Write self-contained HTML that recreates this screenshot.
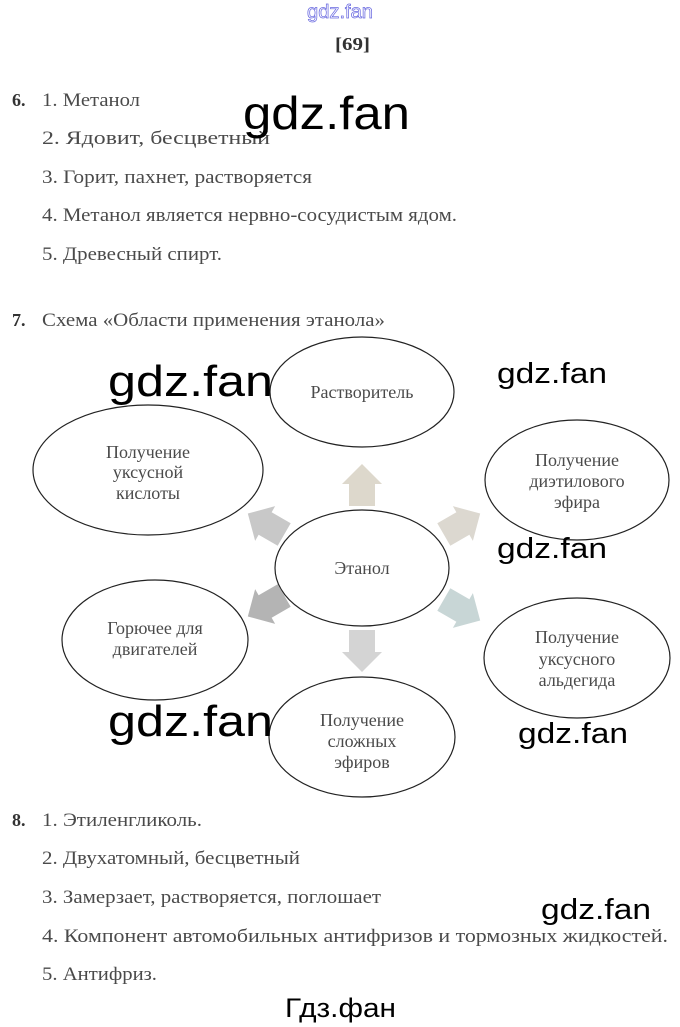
<!DOCTYPE html>
<html><head><meta charset="utf-8"><style>
html,body{margin:0;padding:0;background:#fff;}
svg{display:block}
.t{font-family:"Liberation Serif",serif;font-size:19px;fill:#4a4a4a}
.b{font-family:"Liberation Serif",serif;font-size:18px;font-weight:bold;fill:#333}
.w{font-family:"Liberation Sans",sans-serif;fill:#000}
.c{font-family:"Liberation Serif",serif;font-size:18px;fill:#4a4a4a;text-anchor:middle}
</style></head><body>
<svg width="680" height="1027" viewBox="0 0 680 1027" xmlns="http://www.w3.org/2000/svg">
<text x="307" y="18" class="w" style="font-size:19px;fill:none;stroke:#6a6ae0;stroke-width:0.7" textLength="66" lengthAdjust="spacingAndGlyphs">gdz.fan</text>
<text x="335" y="50" class="b" textLength="35" lengthAdjust="spacingAndGlyphs">[69]</text>

<text x="12" y="106" class="b">6.</text>
<text x="42" y="106" class="t" textLength="98" lengthAdjust="spacingAndGlyphs">1. Метанол</text>
<text x="42" y="144" class="t" textLength="228" lengthAdjust="spacingAndGlyphs">2. Ядовит, бесцветный</text>
<text x="42" y="183" class="t" textLength="270" lengthAdjust="spacingAndGlyphs">3. Горит, пахнет, растворяется</text>
<text x="42" y="221" class="t" textLength="415" lengthAdjust="spacingAndGlyphs">4. Метанол является нервно-сосудистым ядом.</text>
<text x="42" y="260" class="t" textLength="180" lengthAdjust="spacingAndGlyphs">5. Древесный спирт.</text>
<text x="243" y="129" class="w" style="font-size:46px" textLength="167" lengthAdjust="spacingAndGlyphs">gdz.fan</text>

<text x="12" y="326" class="b">7.</text>
<text x="42" y="326" class="t" textLength="343" lengthAdjust="spacingAndGlyphs">Схема «Области применения этанола»</text>

<g fill="none" stroke="#222" stroke-width="1.2">
<ellipse cx="362" cy="392" rx="92" ry="55"/>
<ellipse cx="148" cy="470" rx="115" ry="65"/>
<ellipse cx="577" cy="480" rx="92" ry="60"/>
<ellipse cx="362" cy="568" rx="87" ry="58"/>
<ellipse cx="155" cy="640" rx="93" ry="60"/>
<ellipse cx="577" cy="658" rx="93" ry="60"/>
<ellipse cx="362" cy="737" rx="93" ry="60"/>
</g>
<defs>
<polygon id="ar" points="-13,21 13,21 13,-1 20,-1 0,-21 -20,-1 -13,-1"/>
</defs>
<use href="#ar" transform="translate(362,485)" fill="#ddd8cc"/>
<use href="#ar" transform="translate(362,651) rotate(180)" fill="#d4d4d4"/>
<use href="#ar" transform="translate(266,524) rotate(-60)" fill="#c8c8c8"/>
<use href="#ar" transform="translate(266,606) rotate(-120)" fill="#b4b4b4"/>
<use href="#ar" transform="translate(462,524) rotate(60)" fill="#dcd8d0"/>
<use href="#ar" transform="translate(462,610) rotate(120)" fill="#c8d6d6"/>

<text x="362" y="398" class="c">Растворитель</text>
<text x="148" y="458" class="c">Получение</text>
<text x="148" y="478" class="c">уксусной</text>
<text x="148" y="499" class="c">кислоты</text>
<text x="577" y="466" class="c">Получение</text>
<text x="577" y="487" class="c">диэтилового</text>
<text x="577" y="508" class="c">эфира</text>
<text x="362" y="574" class="c">Этанол</text>
<text x="155" y="634" class="c">Горючее для</text>
<text x="155" y="655" class="c">двигателей</text>
<text x="577" y="643" class="c">Получение</text>
<text x="577" y="665" class="c">уксусного</text>
<text x="577" y="686" class="c">альдегида</text>
<text x="362" y="726" class="c">Получение</text>
<text x="362" y="747" class="c">сложных</text>
<text x="362" y="768" class="c">эфиров</text>

<text x="108" y="396" class="w" style="font-size:44px" textLength="165" lengthAdjust="spacingAndGlyphs">gdz.fan</text>
<text x="497" y="383" class="w" style="font-size:29px" textLength="110" lengthAdjust="spacingAndGlyphs">gdz.fan</text>
<text x="497" y="558" class="w" style="font-size:29px" textLength="110" lengthAdjust="spacingAndGlyphs">gdz.fan</text>
<text x="108" y="736" class="w" style="font-size:44px" textLength="165" lengthAdjust="spacingAndGlyphs">gdz.fan</text>
<text x="518" y="743" class="w" style="font-size:29px" textLength="110" lengthAdjust="spacingAndGlyphs">gdz.fan</text>

<text x="12" y="826" class="b">8.</text>
<text x="42" y="826" class="t" textLength="160" lengthAdjust="spacingAndGlyphs">1. Этиленгликоль.</text>
<text x="42" y="864" class="t" textLength="258" lengthAdjust="spacingAndGlyphs">2. Двухатомный, бесцветный</text>
<text x="42" y="903" class="t" textLength="339" lengthAdjust="spacingAndGlyphs">3. Замерзает, растворяется, поглошает</text>
<text x="42" y="942" class="t" textLength="626" lengthAdjust="spacingAndGlyphs">4. Компонент автомобильных антифризов и тормозных жидкостей.</text>
<text x="42" y="980" class="t" textLength="115" lengthAdjust="spacingAndGlyphs">5. Антифриз.</text>
<text x="541" y="919" class="w" style="font-size:29px" textLength="110" lengthAdjust="spacingAndGlyphs">gdz.fan</text>
<text x="285" y="1017" class="w" style="font-size:27px" textLength="111" lengthAdjust="spacingAndGlyphs">Гдз.фан</text>
</svg>
</body></html>
